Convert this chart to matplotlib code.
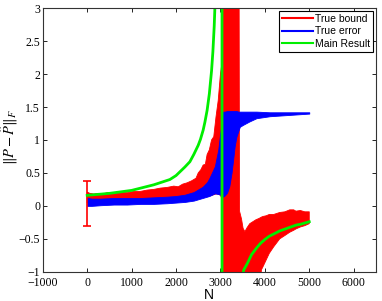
import matplotlib
matplotlib.use('Agg')
import matplotlib.pyplot as plt
from matplotlib.lines import Line2D

plt.rcParams['mathtext.fontset'] = 'stix'

# True bound (red band)
bound_n = [0, 60, 150, 250, 350, 450, 600, 750, 900, 1050, 1200, 1350, 1500, 1650, 1800, 1950,
           2050, 2150, 2250, 2350, 2450, 2500, 2560, 2611, 2660, 2700, 2750, 2800, 2850, 2900, 2950,
           3000, 3040, 3055, 3420, 3430, 3475, 3510, 3550, 3600, 3660, 3730, 3800, 3870, 3923, 3960,
           4030, 4100, 4200, 4335, 4450, 4560, 4650, 4700, 4800, 4900, 5000]
bound_hi = [0.21, 0.19, 0.18, 0.19, 0.18, 0.20, 0.19, 0.21, 0.20, 0.22, 0.22, 0.24, 0.25, 0.27, 0.28, 0.30,
            0.29, 0.33, 0.35, 0.38, 0.42, 0.50, 0.55, 0.62, 0.63, 0.78, 0.85, 1.0, 1.05, 1.35, 1.6,
            2.0, 2.2, 3.5, 3.5, -0.08, -0.2, -0.34, -0.39, -0.33, -0.27, -0.24, -0.21, -0.19, -0.17, -0.16,
            -0.15, -0.13, -0.13, -0.10, -0.09, -0.06, -0.06, -0.08, -0.07, -0.09, -0.09]
bound_lo = [0.05, 0.05, 0.05, 0.05, 0.05, 0.05, 0.05, 0.05, 0.05, 0.05, 0.05, 0.05, 0.05, 0.06, 0.06, 0.07,
            0.07, 0.08, 0.08, 0.09, 0.10, 0.11, 0.12, 0.13, 0.14, 0.14, 0.15, 0.16, 0.17, 0.18, 0.18,
            0.16, 0.1, -1.5, -1.5, -1.5, -1.5, -1.5, -1.5, -1.5, -1.5, -1.5, -1.5, -1.5, -0.97, -0.92,
            -0.82, -0.72, -0.62, -0.5, -0.45, -0.4, -0.37, -0.35, -0.32, -0.30, -0.27]
# error bar at N = 0
bar_n = [0]
bar_mid = [0.03]
bar_lo = [-0.31]
bar_hi = [0.37]

# True error (blue band)
err_n = [0, 100, 300, 600, 900, 1200, 1500, 1800, 2000, 2200, 2400, 2500, 2600, 2700, 2750, 2874, 2950,
         3000, 3060, 3100, 3150, 3200, 3250, 3286, 3320, 3360, 3400, 3436, 3511, 3650, 3811, 4111, 4560, 5000]
err_hi = [0.12, 0.11, 0.11, 0.12, 0.12, 0.12, 0.13, 0.14, 0.15, 0.17, 0.21, 0.25, 0.29, 0.36, 0.42, 0.6, 0.85,
          1.13, 1.43, 1.43, 1.44, 1.44, 1.44, 1.44, 1.44, 1.44, 1.43, 1.43, 1.43, 1.43, 1.43, 1.42, 1.42, 1.42]
err_lo = [0.0, 0.0, 0.01, 0.02, 0.02, 0.03, 0.03, 0.04, 0.05, 0.06, 0.08, 0.10, 0.12, 0.14, 0.15, 0.19, 0.18,
          0.17, 0.14, 0.16, 0.2, 0.30, 0.5, 0.70, 0.9, 1.05, 1.13, 1.2, 1.23, 1.28, 1.33, 1.36, 1.38, 1.40]

# Main Result (green curve)
main_n = [0, 500, 1000, 1500, 1862, 2000, 2200, 2312, 2400, 2500, 2550, 2611, 2650, 2700, 2750, 2800,
          2830, 2860, 2890, 2950, 3000, 3030, 3050, 3060, 3080, 3120, 3150, 3200, 3250, 3300, 3350, 3400,
          3450, 3526, 3600, 3700, 3800, 3900, 4000, 4100, 4335, 4500, 4710, 4800, 5000]
main_v = [0.16, 0.19, 0.235, 0.32, 0.40, 0.46, 0.59, 0.67, 0.78, 0.92, 1.01, 1.15, 1.27, 1.45, 1.70, 2.05,
          2.34, 2.73, 3.28, 5.2, 10.9, 33, -80, -24, -12, -6, -4.4, -3.2, -2.33, -1.93, -1.58, -1.38,
          -1.2, -0.97, -0.88, -0.74, -0.65, -0.57, -0.51, -0.46, -0.38, -0.34, -0.29, -0.28, -0.24]

fig = plt.figure(figsize=(3.82, 3.01), dpi=100)
ax = fig.add_axes([0.112, 0.097, 0.872, 0.876])

ax.fill_between(bound_n, bound_lo, bound_hi, color='red', lw=0.6, edgecolor='red')
ax.errorbar(bar_n, bar_mid, yerr=[[bar_mid[0] - bar_lo[0]], [bar_hi[0] - bar_mid[0]]],
            color='red', lw=1.2, capsize=3, capthick=1.2)
ax.fill_between(err_n, err_lo, err_hi, color='blue', lw=0.6, edgecolor='blue')
ax.plot(main_n, main_v, color='#00ee00', lw=2)

ax.set_xlim(-1000, 6500)
ax.set_ylim(-1, 3)
ax.set_xticks(range(-1000, 7000, 1000))
ax.set_yticks([-1, -0.5, 0, 0.5, 1, 1.5, 2, 2.5, 3])
ax.set_yticklabels(['\u22121', '\u22120.5', '0', '0.5', '1', '1.5', '2', '2.5', '3'])
ax.set_xticklabels(['\u22121000', '0', '1000', '2000', '3000', '4000', '5000', '6000'])
ax.tick_params(direction='in', top=True, right=True, length=3, width=0.6, pad=2, labelsize=8.5)
ax.tick_params(axis='x', pad=4)
for lab in ax.get_xticklabels() + ax.get_yticklabels():
    lab.set_family('Liberation Serif')
for s in ax.spines.values():
    s.set_linewidth(0.8)
    s.set_color('#333333')

ax.set_xlabel('N', fontsize=10, family='Liberation Sans', labelpad=-1)
ax.set_ylabel(r'$\|P-\hat{P}\|_F$', fontsize=10.5, labelpad=0)
ax.yaxis.set_label_coords(-0.068, 0.51)

handles = [Line2D([], [], color='red', lw=1.5),
           Line2D([], [], color='blue', lw=1.5),
           Line2D([], [], color='#00ee00', lw=1.5)]
leg = ax.legend(handles, ['True bound', 'True error', 'Main Result'], loc='upper right',
                prop={'family': 'Liberation Sans', 'size': 7.5}, fancybox=False,
                borderaxespad=0.25, handlelength=3.0, handletextpad=0.2,
                labelspacing=0.25, borderpad=0.3, framealpha=1)
leg.get_frame().set_edgecolor('black')
leg.get_frame().set_linewidth(0.8)

fig.savefig('out.png', dpi=100)
